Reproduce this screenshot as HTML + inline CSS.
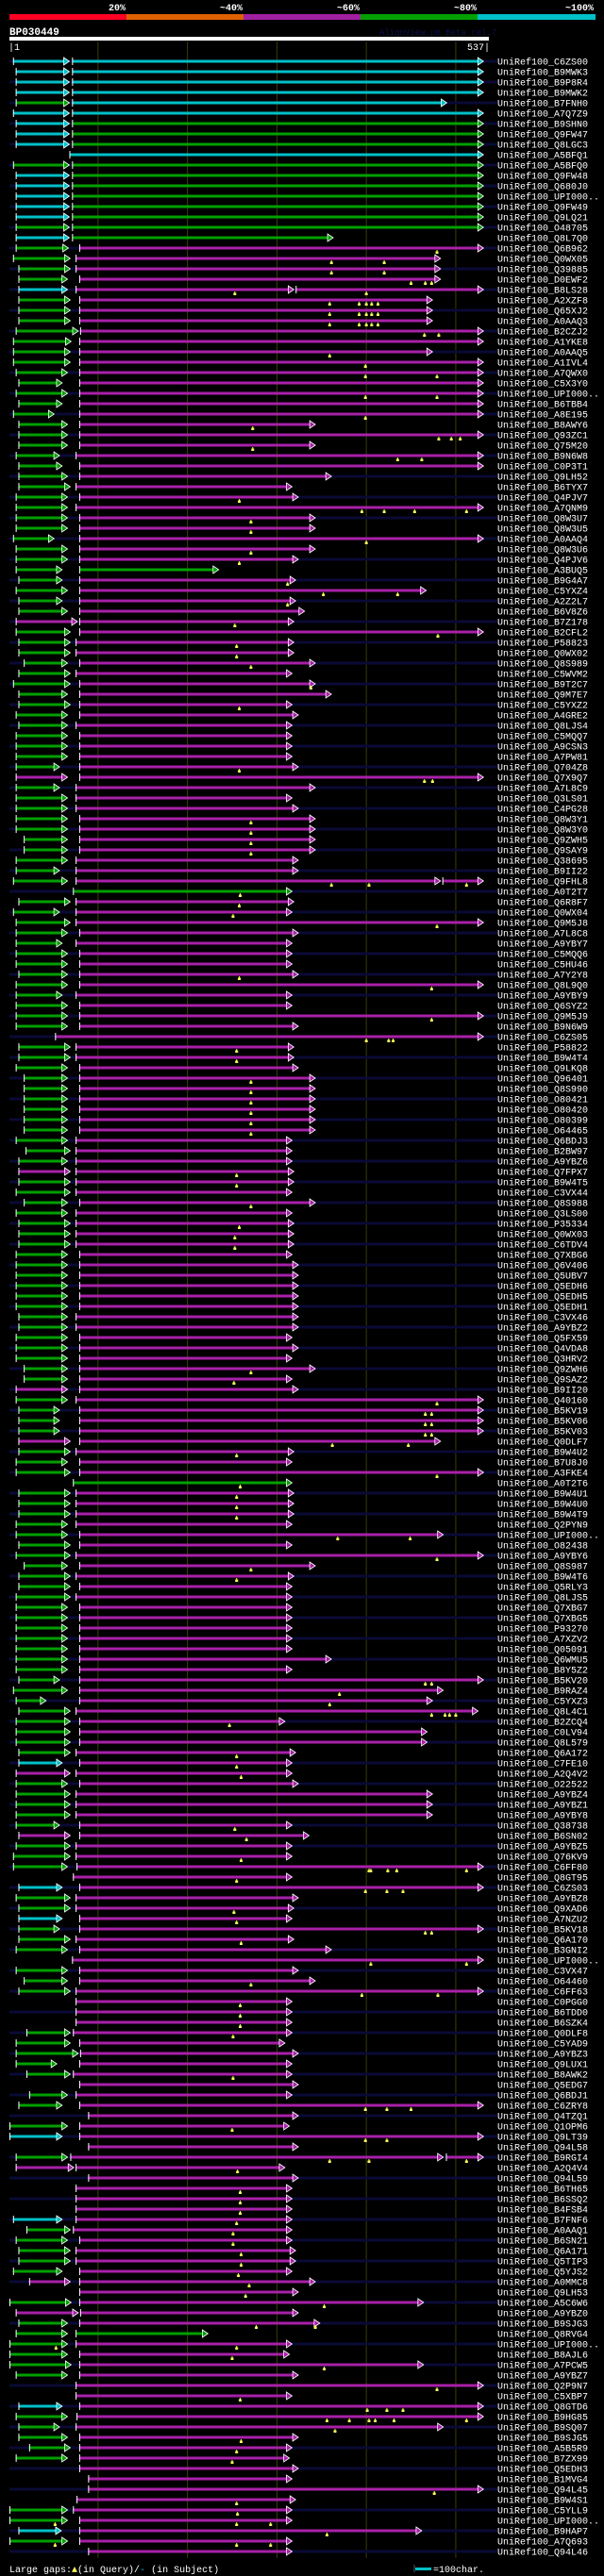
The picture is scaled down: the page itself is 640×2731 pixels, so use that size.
<!DOCTYPE html>
<html><head><meta charset="utf-8">
<style>
html,body{margin:0;padding:0;background:#000;}
body{width:640px;height:2731px;overflow:hidden;}
svg{display:block;}
text{font-family:"Liberation Mono","DejaVu Sans Mono",monospace;}
</style></head>
<body>
<svg id="chart" xmlns="http://www.w3.org/2000/svg" width="640" height="2731" viewBox="0 0 640 2731">
  <rect x="0" y="0" width="640" height="2731" fill="#000"/>
  <g>
    <rect x="10" y="15" width="124" height="6" fill="#ff0024"/>
    <rect x="134" y="15" width="124" height="6" fill="#e06000"/>
    <rect x="258" y="15" width="124" height="6" fill="#a020a0"/>
    <rect x="382" y="15" width="124" height="6" fill="#00a000"/>
    <rect x="506" y="15" width="125" height="6" fill="#00c0c8"/>
    <text x="133" y="11" fill="#fff" font-size="10" font-weight="bold" text-anchor="end">20%</text>
    <text x="257" y="11" fill="#fff" font-size="10" font-weight="bold" text-anchor="end">~40%</text>
    <text x="381" y="11" fill="#fff" font-size="10" font-weight="bold" text-anchor="end">~60%</text>
    <text x="505" y="11" fill="#fff" font-size="10" font-weight="bold" text-anchor="end">~80%</text>
    <text x="629" y="11" fill="#fff" font-size="10" font-weight="bold" text-anchor="end">~100%</text>
  </g>
  <text x="10" y="37" fill="#fff" font-size="11" font-weight="bold">BP030449</text>
  <text x="402" y="37" fill="#101050" font-size="9">AlignView.pm Beta rel.7</text>
  <rect x="10" y="39" width="508" height="4" fill="#fff"/>
  <text x="9" y="53" fill="#fff" font-size="10">|1</text>
  <text x="519" y="53" fill="#fff" font-size="10" text-anchor="end">537|</text>
  <g id="grid"></g>
  <g id="rows"></g>
  <g>
    <text x="10" y="2727" fill="#fff" font-size="10">Large gaps:<tspan fill="#ffff60">▲</tspan>(in Query)/<tspan fill="#00c0c8">-</tspan> (in Subject)</text>
    <line x1="439" y1="2719" x2="439" y2="2727" stroke="#555"/>
    <rect x="440" y="2722" width="17" height="3" fill="#00c0c8"/>
    <text x="459" y="2727" fill="#fff" font-size="10">=100char.</text>
  </g>
</svg>
<script>
const queryLength = 537;
const gridTicks = [100,200,300,400,500];
const names = ["C6ZS00","B9MWK3","B9P8R4","B9MWK2","B7FNH0","A7Q7Z9","B9SHN0","Q9FW47","Q8LGC3","A5BFQ1","A5BFQ0","Q9FW48","Q680J0","UPI000..","Q9FW49","Q9LQ21","O48705","Q8L7Q0","Q6B962","Q0WX05","Q39885","D0EWF2","B8LS28","A2XZF8","Q65XJ2","A0AAQ3","B2CZJ2","A1YKE8","A0AAQ5","A1IVL4","A7QWX0","C5X3Y0","UPI000..","B6TBB4","A8E195","B8AWY6","Q93ZC1","Q75M20","B9N6W8","C0P3T1","Q9LH52","B6TYX7","Q4PJV7","A7QNM9","Q8W3U7","Q8W3U5","A0AAQ4","Q8W3U6","Q4PJV6","A3BUQ5","B9G4A7","C5YXZ4","A2Z2L7","B6V8Z6","B7Z178","B2CFL2","P58823","Q0WX02","Q8S989","C5WVM2","B9T2C7","Q9M7E7","C5YXZ2","A4GRE2","Q8LJS4","C5MQQ7","A9CSN3","A7PW81","Q704Z8","Q7X9Q7","A7L8C9","Q3LS01","C4PG28","Q8W3Y1","Q8W3Y0","Q9ZWH5","Q9SAY9","Q38695","B9II22","Q9FHL8","A0T2T7","Q6R8F7","Q0WX04","Q9M5J8","A7L8C8","A9YBY7","C5MQQ6","C5HU46","A7Y2Y8","Q8L9Q0","A9YBY9","Q6SYZ2","Q9M5J9","B9N6W9","C6ZS05","P58822","B9W4T4","Q9LKQ8","Q96401","Q8S990","O80421","O80420","O80399","O64465","Q6BDJ3","B2BW97","A9YBZ6","Q7FPX7","B9W4T5","C3VX44","Q8S988","Q3LS00","P35334","Q0WX03","C6TDV4","Q7XBG6","Q6V406","Q5UBV7","Q5EDH6","Q5EDH5","Q5EDH1","C3VX46","A9YBZ2","Q5FX59","Q4VDA8","Q3HRV2","Q9ZWH6","Q9SAZ2","B9II20","Q40160","B5KV19","B5KV06","B5KV03","Q0DLF7","B9W4U2","B7U8J0","A3FKE4","A0T2T6","B9W4U1","B9W4U0","B9W4T9","Q2PYN9","UPI000..","O82438","A9YBY6","Q8S987","B9W4T6","Q5RLY3","Q8LJS5","Q7XBG7","Q7XBG5","P93270","A7XZV2","Q05091","Q6WMU5","B8Y5Z2","B5KV20","B9RAZ4","C5YXZ3","Q8L4C1","B2ZCQ4","C0LV94","Q8L579","Q6A172","C7FE10","A2Q4V2","O22522","A9YBZ4","A9YBZ1","A9YBY8","Q38738","B6SN02","A9YBZ5","Q76KV9","C6FF80","Q8GT95","C6ZS03","A9YBZ8","Q9XAD6","A7NZU2","B5KV18","Q6A170","B3GNI2","UPI000..","C3VX47","O64460","C6FF63","C0PGG0","B6TDD0","B6SZK4","Q0DLF8","C5YAD9","A9YBZ3","Q9LUX1","B8AWK2","Q5EDG7","Q6BDJ1","C6ZRY8","Q4TZQ1","Q1OPM6","Q9LT39","Q94L58","B9RGI4","A2Q4V4","Q94L59","B6TH65","B6SSQ2","B4FSB4","B7FNF6","A0AAQ1","B6SN21","Q6A171","Q5TIP3","Q5YJS2","A0MMC8","Q9LH53","A5C6W6","A9YBZ0","B9SJG3","Q8RVG4","UPI000..","B8AJL6","A7PCW5","A9YBZ7","Q2P9N7","C5XBP7","Q8GTD6","B9HG85","B9SQ07","B9SJG5","A5B5R9","B7ZX99","Q5EDH3","B1MVG4","Q94L45","B9W4S1","C5YLL9","UPI000..","B9HAP7","A7Q693","Q94L46"];
const segments = ["5-68c 71-531c","8-68c 71-531c","8-68c 71-531c","8-68c 71-531c","8-68g 71-490c","5-68c 71-531c","8-68c 71-531g","8-68c 71-531g","8-68c 71-531g","68-531c","5-68g 71-531g","8-68c 71-531g","8-68c 71-531g","8-68c 71-531g","8-68c 71-531g","8-68c 71-531g","8-68g 71-531g","8-68c 71-363g","8-67g 79-531m","5-69g 75-483m","11-69g 75-483m","11-66g 79-483m","11-66c 75-319m 321-531m","11-69g 79-474m","11-69g 79-474m","11-69g 79-474m","8-78g 80-531m","5-70g 79-531m","5-69g 79-474m","5-69g 79-531m","8-66g 79-531m","11-60g 79-531m","8-66g 79-531m","11-60g 79-531m","5-51g 79-531m","11-66g 79-343m","11-66g 79-531m","11-66g 79-343m","8-57g 75-531m","11-60g 79-531m","11-66g 79-361m","11-69g 75-317m","8-66g 79-324m","8-66g 75-531m","8-66g 79-343m","8-66g 79-343m","5-51g 79-531m","8-66g 79-343m","8-66g 79-324m","8-60g 79-235g","11-60g 79-321m","8-66g 79-467m","11-60g 79-321m","11-66g 79-331m","8-77m 79-319m","8-69g 79-531m","11-69g 75-319m","11-69g 75-319m","17-66g 79-343m","11-69g 75-317m","5-69g 79-343m","11-66g 79-361m","11-69g 79-317m","8-66g 79-324m","11-66g 75-317m","8-66g 79-317m","8-66g 79-317m","8-66g 79-317m","8-57g 79-324m","8-66m 79-531m","8-57g 75-343m","8-66g 75-317m","8-66g 75-324m","8-66g 79-343m","8-66g 79-343m","17-66g 79-343m","17-66g 79-343m","8-66g 75-324m","8-57g 75-324m","5-66g 75-483m 485-531m","72-317g","11-69g 75-319m","5-57g 75-317m","8-69g 75-531m","8-66g 79-324m","8-60g 75-317m","8-66g 79-317m","8-66g 79-317m","11-66g 79-324m","8-66g 79-531m","8-60g 75-317m","8-66g 79-317m","8-66g 79-531m","8-66g 79-324m","52-531m","11-69g 75-319m","11-69g 75-319m","8-66g 79-324m","17-66g 79-343m","17-66g 79-343m","17-66g 79-343m","17-66g 79-343m","17-66g 79-343m","17-66g 79-343m","8-66g 75-317m","19-69g 75-317m","11-66g 75-317m","11-69m 75-319m","11-69g 75-319m","8-69g 75-317m","17-66g 79-343m","8-66g 75-317m","11-69g 75-319m","11-69g 75-319m","11-69g 75-319m","8-66g 79-317m","8-66g 79-324m","8-66g 79-324m","8-66g 79-324m","8-66g 79-324m","8-66g 79-324m","11-66g 75-324m","11-66g 75-324m","8-66g 79-317m","8-66g 79-324m","8-66g 79-317m","17-66g 79-343m","17-66g 79-317m","8-66m 79-324m","8-66g 75-531m","11-57g 79-531m","11-57g 79-531m","11-57g 79-531m","11-69m 79-483m","11-69g 75-319m","8-66g 79-317m","8-69g 79-531m","72-317g","11-69g 75-319m","11-69g 75-319m","11-69g 75-319m","8-66g 75-317m","8-66g 79-486m","11-69g 79-317m","8-69g 75-531m","17-66g 79-343m","11-69g 75-319m","11-69g 79-317m","8-69g 75-317m","8-66g 79-317m","8-66g 79-317m","8-66g 79-317m","8-66g 79-317m","8-66g 79-317m","8-66g 79-361m","8-66g 79-317m","11-57g 79-531m","5-66g 79-486m","8-42g 79-474m","11-69g 75-525m","8-69g 79-309m","8-69g 79-468m","8-69g 79-468m","11-69g 75-321m","11-60c 79-317m","8-69m 75-317m","8-66g 79-324m","8-69g 75-474m","8-69g 75-474m","8-69g 75-474m","8-57g 79-317m","11-69m 79-336m","8-69g 75-317m","5-69g 75-317m","5-66g 76-531m","72-317m","11-60c 79-531m","8-69g 75-324m","11-69g 75-319m","11-60c 79-317m","11-57g 79-531m","11-69g 75-319m","8-66g 79-361m","71-531m","8-66g 79-324m","17-66g 79-343m","11-69g 75-531m","75-317m","75-317m","75-317m","20-69g 72-317m","8-69g 79-309m","8-78g 80-324m","8-54g 79-317m","20-69g 72-317m","79-324m","23-66g 75-317m","11-60g 79-531m","89-324m","1-66g 79-314m","1-60c 79-531m","89-324m","8-66g 69-486m 489-531m","8-73m 75-309m","89-324m","75-317m","75-317m","75-317m","5-60c 75-317m","20-69g 72-317m","8-66g 79-317m","11-69g 75-321m","11-69g 75-321m","5-60g 79-317m","23-69m 79-343m","79-324m","1-70g 79-464m","8-78m 80-324m","11-66g 79-348m","8-66g 75-223g","1-66g 75-317m","1-66g 79-314m","1-70g 79-464m","8-66g 79-324m","75-531m","75-317m","11-60c 79-531m","8-66g 76-531m","11-57g 75-486m","11-66g 79-324m","23-69g 79-317m","8-66g 79-314m","79-324m","89-317m","89-531m","76-321m","1-66g 72-317m","1-66g 79-317m","11-59c 79-462m","1-66g 79-317m","89-317m"];
const gaps = ["","","","","","","","","","","","","","","","","","","479","361 420","361 420","450 466 473","253 400","359 392 400 406 413","359 392 400 406 413","359 392 400 406 413","465 481","","359","399","399 479","","399 479","","399","273","481 495 505","273","435 462","","","","258","395 420 454 512","271","271","400","271","258","","312","352 435","312","","253","480","255","255","271","","338","","258","","","","","","258","465 474","","","","271","271","271","271","","","361 403 512","259","258","251","479","","","","","258","473","","","473","","400 425 430","255","255","","271","271","271","271","271","271","","","","255","255","","271","","258","253","253","","","","","","","","","","","","271","252","","479","466 473","466 473","466 473","362 447","255","","479","259","255","255","255","","368 449","","479","271","255","","","","","","","","","","466 473","370","359","473 488 493 500","247","","","255","255","260","","","","","253","266","","260","403 405 424 434 512","255","399 423 441","","252","255","466 473","260","","405 512","","271","395 480","259","259","259","251","","","","251","","","399 423 450","","250","399 423","","359 403 512","256","","259","259","259","255","251","251","260","260","257","269","265","353","","277 343","","53 255","250","353","","479","259","401 423 441","356 381 403 410 431 512","365","260","255","250","","","476","255","256","52 255 293","356","52 255 293",""];

const NS = "http://www.w3.org/2000/svg";
const colors = {c:"#00c0c8", g:"#00a000", m:"#a820a8"};
const X0 = 10, X1 = 518, ROW0 = 65, PITCH = 11;
function xScale(res){ return X0 + (res - 1) * (X1 - X0) / (queryLength - 1); }
function yScale(i){ return ROW0 + i * PITCH; }
function mk(tag, attrs){ const e = document.createElementNS(NS, tag); for (const k in attrs) e.setAttribute(k, attrs[k]); return e; }

const grid = document.getElementById('grid');
gridTicks.forEach(function(t){
  const l = mk('line', {x1: xScale(t), x2: xScale(t), y1: 44, y2: 2712, stroke: '#3c3c08', 'stroke-width': 1});
  
  
  grid.appendChild(l);
});

const rows = document.getElementById('rows');
names.forEach(function(nm, i){
  const y = yScale(i);
  const g = mk('g', {});
  
  
  if (i % 2 === 0) {
    const tr = mk('rect', {x: 10, y: y - 1.5, width: 517, height: 3, fill: '#0a0a36'});
    
    
    g.appendChild(tr);
  }
  (segments[i] || '').trim().split(/\s+/).forEach(function(s){
    if (!s) return;
    const m = s.match(/^(\d+)-(\d+)([cgm])$/);
    if (!m) return;
    const xs = xScale(+m[1]), xe = xScale(+m[2]), col = colors[m[3]];
    const bar = mk('rect', {x: xs, y: y - 1.5, width: Math.max(0, xe - 6 - xs), height: 3, fill: col});
    
    
    g.appendChild(bar);
    const tick = mk('line', {x1: xs + 0.5, x2: xs + 0.5, y1: y - 4, y2: y + 4, stroke: '#fff', 'stroke-width': 1});
    
    
    g.appendChild(tick);
    const ar = mk('polygon', {points: (xe - 6) + ',' + (y - 4) + ' ' + xe + ',' + y + ' ' + (xe - 6) + ',' + (y + 4), fill: col, stroke: '#fff', 'stroke-width': 0.8});
    
    
    g.appendChild(ar);
  });
  (gaps[i] || '').trim().split(/\s+/).forEach(function(p){
    if (!p) return;
    const gx = xScale(+p);
    const gm = mk('path', {d: 'M' + (gx - 0.5) + ' ' + (y + 2) + 'h1v1.5h1v2.5h-3v-2.5h1z', fill: '#ffff60'});
    
    
    g.appendChild(gm);
  });
  const t = mk('text', {x: 527, y: y + 3.5, fill: '#fff', 'font-size': 10});
  t.textContent = 'UniRef100_' + nm;
  
  
  g.appendChild(t);
  rows.appendChild(g);
});
</script>
</body></html>
